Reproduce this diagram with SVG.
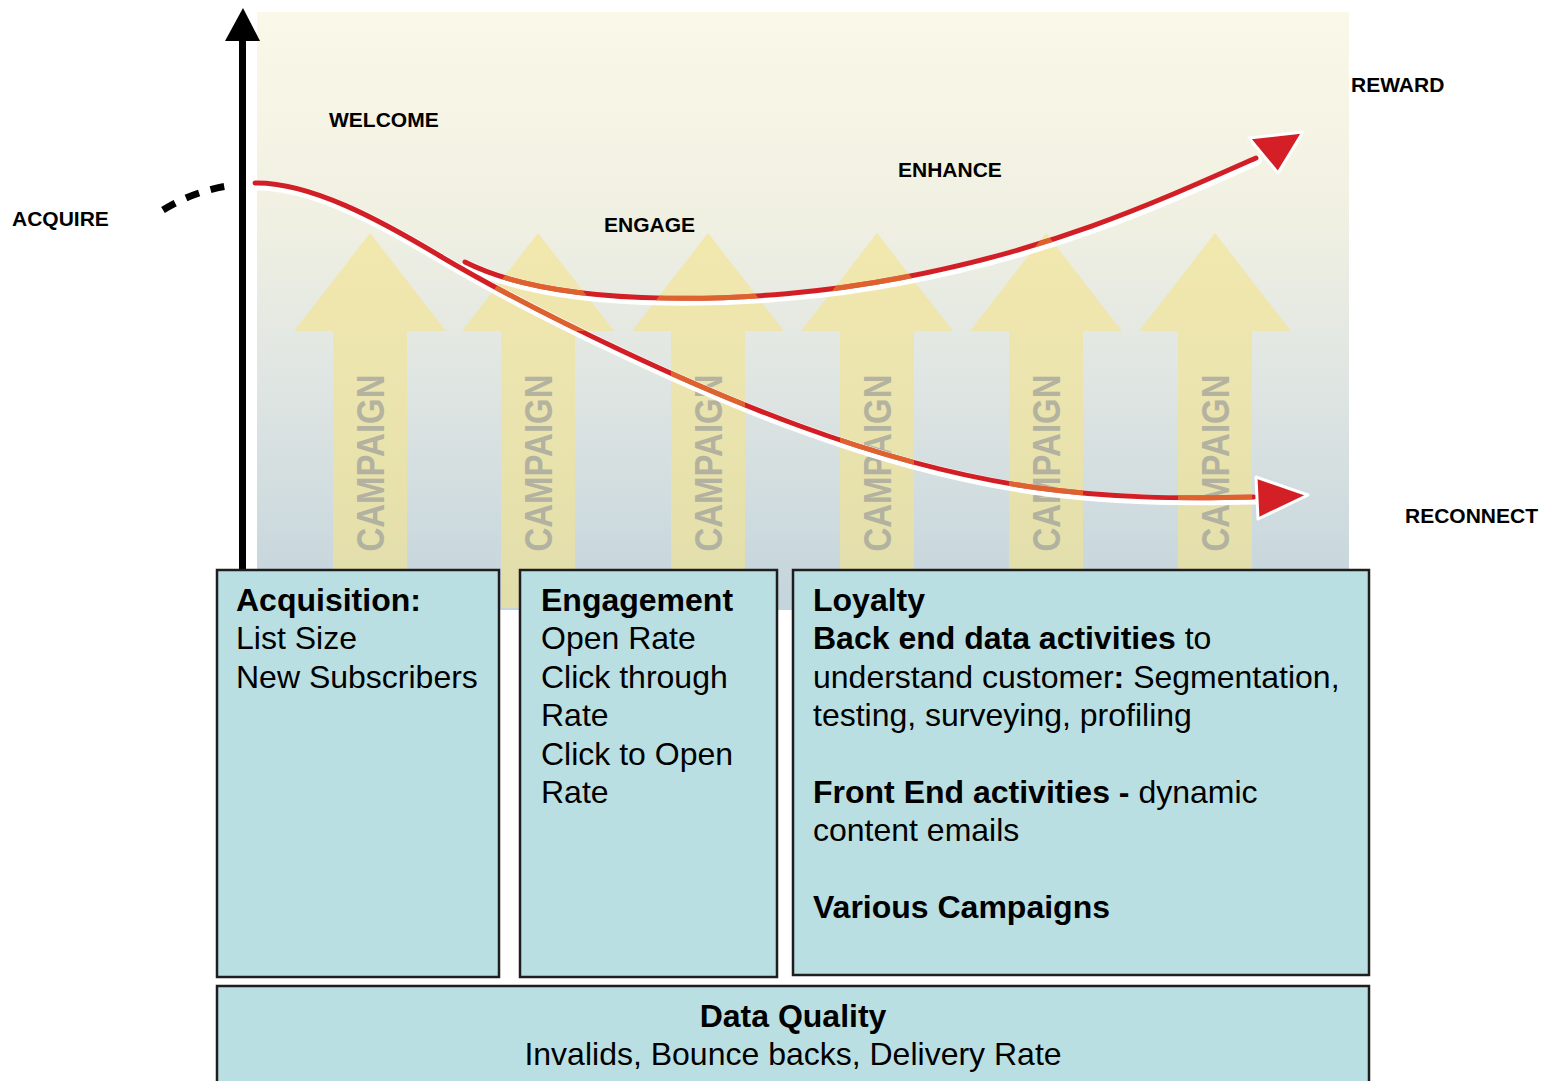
<svg xmlns="http://www.w3.org/2000/svg" xmlns:xlink="http://www.w3.org/1999/xlink" width="1551" height="1081" viewBox="0 0 1551 1081">
<style>
.lbl{font-family:"Liberation Sans",Arial,sans-serif;font-weight:bold;font-size:21px;fill:#000}
.bt{font-family:"Liberation Sans",Arial,sans-serif;font-size:32px;fill:#000}
.b{font-weight:bold}
.box{fill:#badfe2;stroke:#1e1e1e;stroke-width:2.5}
.camp{fill:#f3e48e;opacity:0.62}
.ctext{font-family:"Liberation Sans",Arial,sans-serif;font-weight:bold;font-size:33px;fill:#a2a39c;opacity:0.75}
.halo{fill:none;stroke:#fff;stroke-width:10;stroke-linecap:round}
.red{fill:none;stroke:#d21f26;stroke-width:5;stroke-linecap:round}
.org{fill:none;stroke:#e27a32;stroke-width:5;stroke-linecap:round}
.head{fill:#d41f26;stroke:#fff;stroke-width:3;stroke-linejoin:round}
</style>
<defs>
<linearGradient id="bg" x1="0" y1="0" x2="0" y2="1">
<stop offset="0" stop-color="#faf8e8"/>
<stop offset="0.35" stop-color="#f0f0e2"/>
<stop offset="0.65" stop-color="#dde4e2"/>
<stop offset="1" stop-color="#c3d4dc"/>
</linearGradient>
<path id="ca" d="M0,233 L76,331 L37,331 L37,608 L-37,608 L-37,331 L-76,331 Z"/>
<path id="upper" d="M465,262 C560,310 760,305 900,278 C1050,250 1150,205 1256,158"/>
<path id="lower" d="M255,183 C310,182 380,220 440,256 C545,318 700,390 800,426 C980,492 1100,501 1254,497"/>
<clipPath id="campclip">
<use xlink:href="#ca" transform="translate(370,0)"/>
<use xlink:href="#ca" transform="translate(538,0)"/>
<use xlink:href="#ca" transform="translate(708,0)"/>
<use xlink:href="#ca" transform="translate(877,0)"/>
<use xlink:href="#ca" transform="translate(1046,0)"/>
<use xlink:href="#ca" transform="translate(1215,0)"/>
</clipPath>
</defs>

<g id="background">
<rect x="257" y="12" width="1092" height="598" fill="url(#bg)"/>
</g>

<g id="campaigns">
<g id="campaign1"><use xlink:href="#ca" class="camp" transform="translate(370,0)"/><text class="ctext" text-anchor="middle" transform="translate(384,463) rotate(-90) scale(1,1.2)">CAMPAIGN</text></g>
<g id="campaign2"><use xlink:href="#ca" class="camp" transform="translate(538,0)"/><text class="ctext" text-anchor="middle" transform="translate(552,463) rotate(-90) scale(1,1.2)">CAMPAIGN</text></g>
<g id="campaign3"><use xlink:href="#ca" class="camp" transform="translate(708,0)"/><text class="ctext" text-anchor="middle" transform="translate(722,463) rotate(-90) scale(1,1.2)">CAMPAIGN</text></g>
<g id="campaign4"><use xlink:href="#ca" class="camp" transform="translate(877,0)"/><text class="ctext" text-anchor="middle" transform="translate(891,463) rotate(-90) scale(1,1.2)">CAMPAIGN</text></g>
<g id="campaign5"><use xlink:href="#ca" class="camp" transform="translate(1046,0)"/><text class="ctext" text-anchor="middle" transform="translate(1060,463) rotate(-90) scale(1,1.2)">CAMPAIGN</text></g>
<g id="campaign6"><use xlink:href="#ca" class="camp" transform="translate(1215,0)"/><text class="ctext" text-anchor="middle" transform="translate(1229,463) rotate(-90) scale(1,1.2)">CAMPAIGN</text></g>
</g>

<g id="connectors">
<use xlink:href="#lower" class="halo" transform="translate(1,2.5)"/>
<use xlink:href="#upper" class="halo" transform="translate(1,2.5)"/>
<use xlink:href="#lower" class="red"/>
<use xlink:href="#upper" class="red"/>
<g clip-path="url(#campclip)" opacity="0.75">
<use xlink:href="#lower" class="org"/>
<use xlink:href="#upper" class="org"/>
</g>
<polygon class="head" points="1249,138 1303,132 1278,173"/>
<polygon class="head" points="1256,477 1308,495 1258,519"/>
<path d="M163,210 Q195,190 234,185" fill="none" stroke="#000" stroke-width="7" stroke-dasharray="14 12"/>
<line x1="242.5" y1="36" x2="242.5" y2="571" stroke="#000" stroke-width="7"/>
<polygon points="243,8 225,41 260,41" fill="#000"/>
</g>

<g id="labels">
<text class="lbl" x="329" y="127">WELCOME</text>
<text class="lbl" x="12" y="226">ACQUIRE</text>
<text class="lbl" x="604" y="232">ENGAGE</text>
<text class="lbl" x="898" y="177">ENHANCE</text>
<text class="lbl" x="1351" y="92">REWARD</text>
<text class="lbl" x="1405" y="523">RECONNECT</text>
</g>

<g id="acquisition">
<rect class="box" x="217" y="570" width="282" height="407"/>
<text class="bt" x="236" y="611"><tspan class="b">Acquisition:</tspan><tspan x="236" dy="38.4">List Size</tspan><tspan x="236" dy="38.4">New Subscribers</tspan></text>
</g>

<g id="engagement">
<rect class="box" x="520" y="570" width="257" height="407"/>
<text class="bt" x="541" y="611"><tspan class="b">Engagement</tspan><tspan x="541" dy="38.4">Open Rate</tspan><tspan x="541" dy="38.4">Click through</tspan><tspan x="541" dy="38.4">Rate</tspan><tspan x="541" dy="38.4">Click to Open</tspan><tspan x="541" dy="38.4">Rate</tspan></text>
</g>

<g id="loyalty">
<rect class="box" x="793" y="570" width="576" height="405"/>
<text class="bt" x="813" y="611"><tspan class="b">Loyalty</tspan></text>
<text class="bt" x="813" y="649.4"><tspan class="b">Back end data activities</tspan> to</text>
<text class="bt" x="813" y="687.8">understand customer<tspan class="b">:</tspan> Segmentation,</text>
<text class="bt" x="813" y="726.2">testing, surveying, profiling</text>
<text class="bt" x="813" y="803"><tspan class="b">Front End activities -</tspan> dynamic</text>
<text class="bt" x="813" y="841.4">content emails</text>
<text class="bt b" x="813" y="918.2">Various Campaigns</text>
</g>

<g id="dataquality">
<rect class="box" x="217" y="986" width="1152" height="110"/>
<text class="bt b" x="793" y="1027" text-anchor="middle">Data Quality</text>
<text class="bt" x="793" y="1065" text-anchor="middle">Invalids, Bounce backs, Delivery Rate</text>
</g>
</svg>
